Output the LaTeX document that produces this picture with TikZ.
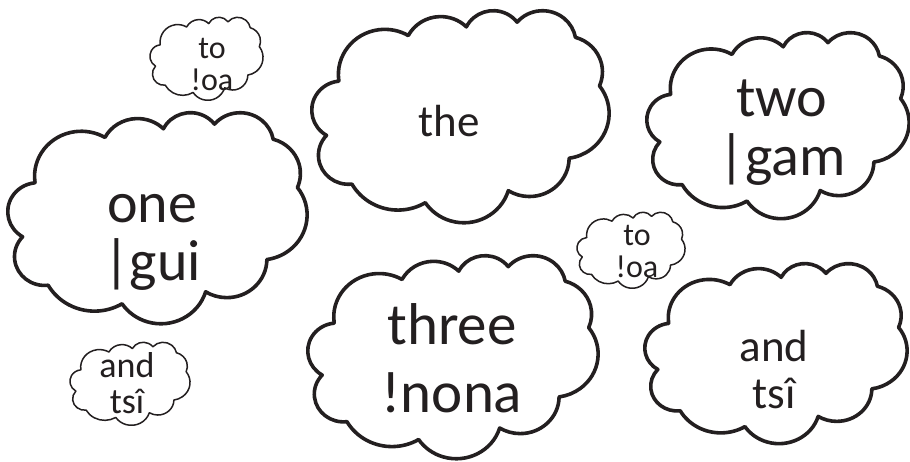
\documentclass[tikz,border=0pt]{standalone}
\usepackage{fontspec}
\setmainfont{Carlito}
\usepackage{tikz}
\definecolor{ink}{RGB}{35,31,32}

% one lobe of the cloud outline (radii, visual start angle, sweep)
\newcommand{\puff}[4]{arc[x radius=#1,y radius=#2,start angle={atan2((#1)*sin(#3),(#2)*cos(#3))},delta angle={mod(atan2((#1)*sin((#3)+(#4)),(#2)*cos((#3)+(#4)))-atan2((#1)*sin(#3),(#2)*cos(#3))+720,360)}]}
\newcommand{\cloudpath}{(3.9,14.37)
  \puff{6.753}{9.19}{-190.4875}{123.7805}
  \puff{5.333}{7.267}{-144.1024}{89.9452}
  \puff{4.365}{5.945}{-145.8079}{99.7230}
  \puff{4.857}{6.595}{-130.9861}{117.2417}
  \puff{5.333}{7.273}{-78.7089}{109.0269}
  \puff{6.775}{9.22}{-46.2673}{130.2690}
  \puff{5.785}{7.867}{0.6250}{114.0333}
  \puff{6.752}{9.215}{22.4516}{115.1726}
  \puff{7.72}{10.543}{66.2426}{75.7110}
  \puff{4.36}{5.918}{-274.9421}{146.7356}
  \puff{4.345}{5.945}{-246.8285}{152.5189} -- cycle}
\newcommand{\drawcloud}[5][bigcloud]{\draw[#1,shift={(#2,#3)},xscale=#4/43.2,yscale=#5/43.2] \cloudpath;}

\begin{document}
\begin{tikzpicture}[x=1pt,y=-1pt,
  bigcloud/.style={draw=ink,line width=3.6pt,fill=white,line join=round},
  smallcloud/.style={draw=ink,line width=1.5pt,fill=white,line join=round},
  word/.style={text=ink,align=center,inner sep=0pt}]
  \useasboundingbox (0,0) rectangle (910,461);

  % clouds
  \drawcloud[smallcloud]{150}{17}{113}{83}
  \drawcloud{312}{10}{297}{212}
  \drawcloud{647}{32}{262}{186}
  \drawcloud{8}{112}{299}{211}
  \drawcloud[smallcloud]{577}{212}{108}{76}
  \drawcloud[smallcloud]{70}{342}{120}{83}
  \drawcloud{308}{255}{290}{203}
  \drawcloud{645}{263}{262}{180}

  % words
  \node[word,font=\fontsize{32}{32}\selectfont] (toa1) at (212,64) {to\\!oa};
  \node[word,font=\fontsize{45}{45}\selectfont] (the) at (449,121) {the};
  \node[word,font=\fontsize{58}{59}\selectfont] (two) at (782,133) {two\\|gam};
  \node[word,font=\fontsize{58}{58}\selectfont] (one) at (152,242) {one\\|gui};
  \node[word,font=\fontsize{32}{32}\selectfont] (toa2) at (637,251) {to\\!oa};
  \node[word,font=\fontsize{36}{36}\selectfont] (and1) at (127,383) {and\\tsî};
  \node[word,font=\fontsize{59}{68}\selectfont] (three) at (452,358) {three\\!nona};
  \node[word,font=\fontsize{45}{47}\selectfont] (and2) at (774,370) {and\\tsî};
\end{tikzpicture}
\end{document}
